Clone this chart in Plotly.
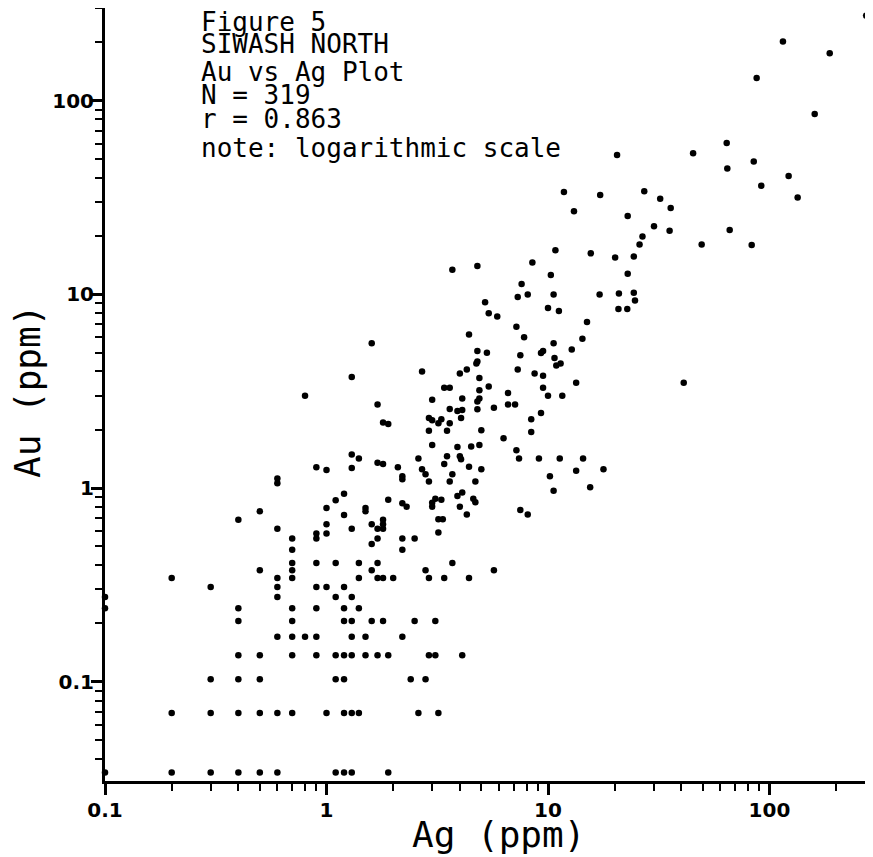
import plotly.graph_objects as go

# ---------------- data ----------------
# Low-grade samples (quantised assay levels)
ag_low = [0.1, 0.1, 0.1,
          0.2, 0.2, 0.2,
          0.3, 0.3, 0.3, 0.3,
          0.4, 0.4, 0.4, 0.4, 0.4, 0.4,
          0.5, 0.5, 0.5, 0.5, 0.5,
          0.6, 0.6, 0.6, 0.6, 0.6, 0.6,
          0.7, 0.7, 0.7, 0.7, 0.7, 0.7, 0.7, 0.7, 0.7,
          0.6, 0.6, 0.4, 0.5, 0.6, 0.7]
au_low = [0.034, 0.240, 0.274,
          0.343, 0.069, 0.034,
          0.309, 0.103, 0.069, 0.034,
          0.240, 0.206, 0.137, 0.103, 0.069, 0.034,
          0.377, 0.137, 0.103, 0.069, 0.034,
          0.343, 0.309, 0.274, 0.171, 0.069, 0.034,
          0.480, 0.411, 0.377, 0.343, 0.240, 0.206, 0.171, 0.137, 0.069,
          1.06, 1.12, 0.686, 0.76, 0.617, 0.549]

ag_grid = [1.6, 2.2,
           0.9, 1.1, 1.4, 1.7, 3.7,
           1.6, 2.8, 5.7,
           1.4, 1.7, 1.8, 2.0, 2.9, 3.4, 4.4,
           0.9, 1.0, 1.2,
           1.1, 1.3,
           0.9, 1.2, 1.4,
           1.2, 1.3, 1.6, 1.8, 2.5, 3.1,
           0.8, 0.9, 1.3, 1.5, 2.2,
           0.9, 1.1, 1.2, 1.3, 1.5, 1.7, 1.9, 2.9, 3.1, 4.1,
           1.1, 1.2, 2.4, 2.8,
           1.0, 1.2, 1.3, 1.4, 2.6, 3.2,
           1.1, 1.2, 1.3, 1.9]
au_grid = [0.514, 0.480,
           0.411, 0.411, 0.411, 0.411, 0.411,
           0.377, 0.377, 0.377,
           0.343, 0.343, 0.343, 0.343, 0.343, 0.343, 0.343,
           0.309, 0.309, 0.309,
           0.274, 0.274,
           0.240, 0.240, 0.240,
           0.206, 0.206, 0.206, 0.206, 0.206, 0.206,
           0.171, 0.171, 0.171, 0.171, 0.171,
           0.137, 0.137, 0.137, 0.137, 0.137, 0.137, 0.137, 0.137, 0.137, 0.137,
           0.103, 0.103, 0.103, 0.103,
           0.069, 0.069, 0.069, 0.069, 0.069, 0.069,
           0.034, 0.034, 0.034, 0.034]

ag_mid = [7.6, 7.3, 8.1, 10.6, 5.2, 10.0, 11.2, 5.4, 5.9, 7.2,
          4.4, 7.8, 1.6, 10.6, 12.8, 4.8, 5.3, 9.5, 9.3, 7.5,
          10.7, 4.8, 4.75, 11.4, 10.9, 7.3, 4.3, 2.7, 4.0, 8.7,
          9.5, 1.3, 4.9, 13.4, 3.4, 3.6, 4.9, 5.4, 9.5, 6.6,
          4.1, 4.9, 4.8, 10.0, 11.6, 0.8, 3.0, 6.6, 7.1, 1.7,
          5.7, 4.8, 3.6, 3.9, 4.1, 9.3, 4.05, 2.9, 3.0, 3.3,
          3.2, 3.6, 8.4, 1.8, 1.9, 2.9, 3.5, 5.0, 8.4, 6.3,
          3.0, 3.9, 4.5, 4.9, 7.2, 7.4, 9.1, 11.3, 1.3, 1.4,
          3.5, 4.0, 4.05, 2.6, 1.7, 1.8, 3.4, 2.1, 0.9, 1.0,
          1.3, 4.4, 5.0, 2.7, 2.8, 3.7, 2.2, 2.2, 13.4, 10.2,
          2.9, 3.6, 4.7, 10.6, 1.2, 4.1, 3.9, 1.1, 1.9, 3.1,
          3.3, 3.0, 3.0, 4.6, 4.7, 1.0, 1.5, 1.5, 2.2, 2.3,
          4.0, 7.5, 8.1, 1.2, 4.3, 3.2, 3.35, 1.8, 1.8, 1.8,
          1.0, 1.6, 1.7, 1.3, 0.9, 0.9, 1.0, 3.2, 1.7, 2.2, 2.5]
au_mid = [11.3, 9.7, 10.0, 10.0, 9.1, 8.5, 8.2, 8.0, 7.7, 6.8,
          6.2, 6.0, 5.6, 5.6, 5.2, 5.1, 5.0, 5.1, 4.98, 4.85,
          4.7, 4.5, 4.4, 4.4, 4.3, 4.1, 4.1, 4.0, 3.9, 3.9,
          3.8, 3.75, 3.7, 3.5, 3.3, 3.3, 3.2, 3.35, 3.3, 3.1,
          2.9, 2.9, 2.8, 3.0, 3.0, 3.0, 2.86, 2.7, 2.7, 2.7,
          2.6, 2.55, 2.56, 2.5, 2.53, 2.44, 2.3, 2.3, 2.24, 2.27,
          2.16, 2.16, 2.27, 2.18, 2.14, 1.98, 1.98, 1.99, 1.95, 1.81,
          1.67, 1.63, 1.64, 1.67, 1.57, 1.42, 1.42, 1.42, 1.49, 1.42,
          1.46, 1.46, 1.41, 1.42, 1.35, 1.33, 1.33, 1.28, 1.28, 1.24,
          1.27, 1.29, 1.25, 1.25, 1.18, 1.18, 1.15, 1.11, 1.23, 1.15,
          1.08, 1.08, 1.08, 0.97, 0.935, 0.95, 0.91, 0.865, 0.87, 0.88,
          0.87, 0.84, 0.80, 0.88, 0.845, 0.79, 0.79, 0.76, 0.835, 0.80,
          0.80, 0.77, 0.73, 0.726, 0.73, 0.69, 0.69, 0.686, 0.651, 0.617,
          0.651, 0.651, 0.617, 0.617, 0.583, 0.549, 0.583, 0.59, 0.549, 0.549, 0.549]

ag_high = [17.1, 20.9, 24.4, 24.7, 20.8, 22.8, 15.0, 14.3, 41.0, 14.4, 17.8, 15.5,
           273, 115, 187, 87.5, 160, 20.5, 45.2, 64.1, 64.5, 84.9,
           122, 91.8, 134, 17.2, 27.2, 32.1, 35.8, 13.1, 22.9, 30.1,
           35.4, 66.1, 26.7, 25.9, 49.4, 83.1, 15.6, 20.1, 24.4, 22.9,
           11.8, 10.8, 8.5, 3.7, 4.8, 10.3]
au_high = [10.0, 10.1, 10.2, 9.3, 8.4, 8.4, 7.2, 5.9, 3.5, 1.42, 1.25, 1.01,
           275, 202, 176, 131, 85.4, 52.4, 53.5, 60.5, 44.6, 48.6,
           40.9, 36.4, 31.6, 32.6, 34.1, 31.2, 27.9, 26.9, 25.4, 22.5,
           21.3, 21.5, 19.9, 18.1, 18.1, 18.0, 16.3, 15.5, 15.7, 12.8,
           33.8, 16.9, 14.6, 13.4, 14.0, 12.6]

major_ticks = [0.1, 1, 10, 100]
major_text = ["0.1", "1", "10", "100"]

title_lines = ["Figure 5", "SIWASH NORTH", "Au vs Ag Plot",
               "N = 319", "r = 0.863", "note: logarithmic scale"]

ag = ag_low + ag_grid + ag_mid + ag_high
au = au_low + au_grid + au_mid + au_high

# ---------------- layout helpers ----------------
# the page body has an 8 px margin, so the figure is drawn 8 px in from the corner
OFF = 8
W, H = 873 - OFF, 857 - OFF
L, R, T, B = 105 - OFF, 0, 0, 76
PW, PH = W - L - R, H - T - B


def px_x(p):
    """screen x pixel -> paper fraction"""
    return (p - OFF - L) / PW


def px_y(p):
    """screen y pixel -> paper fraction"""
    return (H - B - (p - OFF)) / PH


def minors(lo, hi):
    out = []
    for e in range(-3, 4):
        for k in range(2, 10):
            v = k * 10.0 ** e
            if lo <= v <= hi:
                out.append(v)
    return out


fig = go.Figure()
fig.add_trace(go.Scatter(
    x=ag, y=au, mode="markers",
    marker=dict(color="black", size=6.5, line=dict(width=0)),
    cliponaxis=False, showlegend=False,
))

tickfont = dict(family="DejaVu Sans", size=20, color="black", weight="bold")
axis_common = dict(
    type="log", tickmode="array", tickvals=major_ticks, ticktext=major_text,
    ticks="outside", ticklen=11, tickwidth=2.5, tickcolor="black",
    showline=True, linewidth=3, linecolor="black",
    showgrid=False, zeroline=False, tickfont=tickfont,
)

fig.update_layout(
    width=W, height=H,
    margin=dict(l=L, r=R, t=T, b=B, pad=0),
    paper_bgcolor="white", plot_bgcolor="white",
    xaxis=dict(range=[-1, 2.4673], ticklabelstandoff=-2,
               minor=dict(tickmode="array", tickvals=minors(0.1, 290),
                          ticks="outside", ticklen=7, tickwidth=2, tickcolor="black"),
               **axis_common),
    yaxis=dict(range=[-1.5122, 2.4786], ticklabelstandoff=-7,
               minor=dict(tickmode="array", tickvals=minors(0.031, 300),
                          ticks="outside", ticklen=7, tickwidth=2, tickcolor="black"),
               **axis_common),
)

# text block (top-left inside plot)
line_y = [21.7, 44.2, 72.2, 95.0, 119.2, 148.0]
for txt, yy in zip(title_lines, line_y):
    fig.add_annotation(text=txt, xref="paper", yref="paper",
                       x=px_x(199), y=px_y(yy), xanchor="left", yanchor="middle",
                       showarrow=False,
                       font=dict(family="DejaVu Sans Mono", size=26, color="black"))

# axis titles
fig.add_annotation(text="Ag (ppm)", xref="paper", yref="paper",
                   x=px_x(498), y=px_y(834), xanchor="center", yanchor="middle",
                   showarrow=False,
                   font=dict(family="DejaVu Sans Mono", size=36, color="black"))
fig.add_annotation(text="Au (ppm)", xref="paper", yref="paper",
                   x=px_x(27.5), y=px_y(391.5), xanchor="center", yanchor="middle",
                   textangle=-90, showarrow=False,
                   font=dict(family="DejaVu Sans Mono", size=36, color="black"))

fig.write_html("out.html")
